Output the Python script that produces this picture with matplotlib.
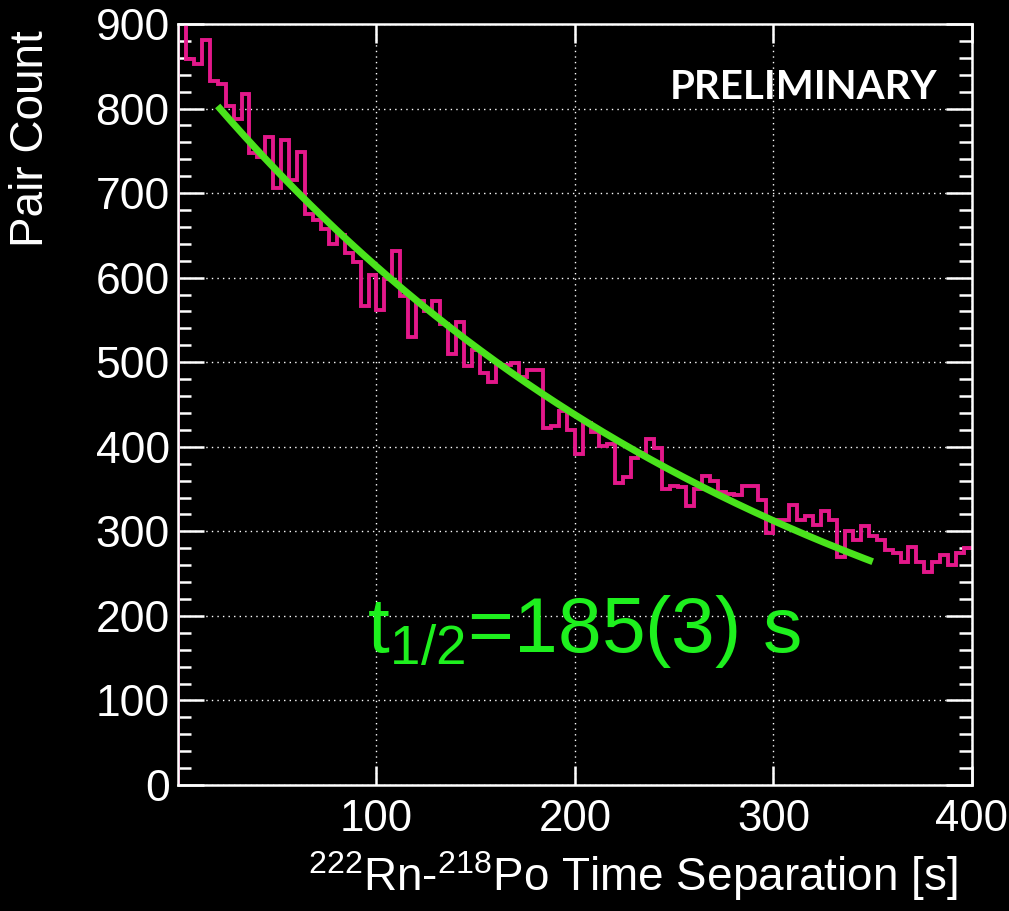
import numpy as np
import matplotlib
matplotlib.use("Agg")
import matplotlib.pyplot as plt
from matplotlib.ticker import MultipleLocator

plt.rcParams['font.family'] = ['Liberation Sans', 'DejaVu Sans']
plt.rcParams['mathtext.fontset'] = 'custom'
plt.rcParams['mathtext.rm'] = 'Liberation Sans'
plt.rcParams['mathtext.it'] = 'Liberation Sans'

# 4 s bins from 0 to 400 s, counts
bin_width = 4
counts = [990, 859, 853, 881, 833, 829, 803, 788, 817, 747,
          743, 766, 706, 763, 715, 749, 675, 668, 657, 640,
          650, 629, 619, 566, 603, 562, 598, 632, 578, 530,
          572, 560, 572, 545, 510, 547, 496, 515, 487, 476,
          497, 497, 499, 482, 491, 491, 422, 424, 442, 420,
          392, 428, 418, 401, 403, 357, 364, 387, 393, 409,
          398, 350, 354, 353, 330, 350, 365, 360, 347, 344,
          343, 354, 354, 337, 298, 313, 313, 331, 313, 318,
          308, 324, 313, 270, 300, 290, 306, 294, 290, 278,
          274, 264, 282, 264, 252, 264, 272, 260, 274, 280]
edges = np.arange(len(counts) + 1) * bin_width

# exponential fit as drawn
fit_range = (20, 350)
fit_amp = 859.0
fit_lambda = 0.00337

x_ticks = [100, 200, 300, 400]
y_ticks = [0, 100, 200, 300, 400, 500, 600, 700, 800, 900]

hist_color = '#e3188a'

fig = plt.figure(figsize=(10.09, 9.11), dpi=100, facecolor='black')
ax = fig.add_axes([0.1764, 0.1383, 0.7869, 0.8354])
ax.set_facecolor('black')

ax.stairs(counts, edges, baseline=None, color=hist_color, lw=2.8, zorder=2)
# rising edge of the first bin
ax.vlines(edges[0], 0, counts[0], color=hist_color, lw=2.8, zorder=2)

t_fit = np.linspace(fit_range[0], fit_range[1], 300)
ax.plot(t_fit, fit_amp * np.exp(-fit_lambda * t_fit), color='#4ae31c',
        lw=5, solid_capstyle='butt', zorder=3)

ax.set_xlim(0, 400)
ax.set_ylim(0, 900)
ax.set_xticks(x_ticks)
ax.set_yticks(y_ticks)
ax.yaxis.set_minor_locator(MultipleLocator(20))

for s in ax.spines.values():
    s.set_color('white')
    s.set_linewidth(1.8)
    s.set_zorder(4)

ax.tick_params(axis='both', which='both', direction='in', colors='white',
               top=True, right=True, width=1.8)
ax.tick_params(axis='y', which='major', length=19, labelsize=32, pad=6)
ax.tick_params(axis='y', which='minor', length=9.5)
ax.tick_params(axis='x', which='major', length=14, labelsize=31.5, pad=10)

ax.grid(True, which='major', color='white', linestyle=(0, (1, 3)), lw=1)

ax.set_xlabel(r'$\mathregular{^{222}}$Rn-$\mathregular{^{218}}$Po Time Separation [s]',
              color='white', fontsize=33)
ax.xaxis.label.set_horizontalalignment('right')
ax.xaxis.set_label_coords(0.982, -0.084)

fig.text(0.031, 0.967, 'Pair Count', color='white', fontsize=33,
         rotation=90, ha='center', va='top')

ax.text(95, 157, r'$\mathregular{t_{1/2}}$=185(3) s', color='#1ef01e',
        fontsize=56.5, ha='left', va='baseline')

ax.text(0.957, 0.916, 'PRELIMINARY', transform=ax.transAxes, color='white',
        fontsize=29, fontweight='bold', family=['Lato', 'DejaVu Sans'],
        ha='right', va='center')

fig.savefig('out.png', dpi=100, facecolor='black')
